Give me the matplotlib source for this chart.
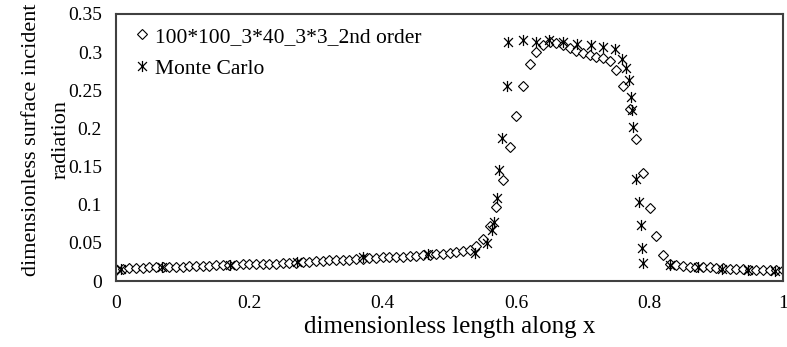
import matplotlib.pyplot as plt
from matplotlib.path import Path
from matplotlib.ticker import FuncFormatter

plt.rcParams['font.family'] = ['Liberation Serif', 'DejaVu Serif']

# discrete ordinates result, 0.01 spacing along x
x_do = [0.00, 0.01, 0.02, 0.03, 0.04, 0.05, 0.06, 0.07, 0.08, 0.09,
        0.10, 0.11, 0.12, 0.13, 0.14, 0.15, 0.16, 0.17, 0.18, 0.19,
        0.20, 0.21, 0.22, 0.23, 0.24, 0.25, 0.26, 0.27, 0.28, 0.29,
        0.30, 0.31, 0.32, 0.33, 0.34, 0.35, 0.36, 0.37, 0.38, 0.39,
        0.40, 0.41, 0.42, 0.43, 0.44, 0.45, 0.46, 0.47, 0.48, 0.49,
        0.50, 0.51, 0.52, 0.53, 0.54, 0.55, 0.56, 0.57, 0.58, 0.59,
        0.60, 0.61, 0.62, 0.63, 0.64, 0.65, 0.66, 0.67, 0.68, 0.69,
        0.70, 0.71, 0.72, 0.73, 0.74, 0.75, 0.76, 0.77, 0.78, 0.79,
        0.80, 0.81, 0.82, 0.83, 0.84, 0.85, 0.86, 0.87, 0.88, 0.89,
        0.90, 0.91, 0.92, 0.93, 0.94, 0.95, 0.96, 0.97, 0.98, 0.99, 1.00]
y_do = [0.014, 0.016, 0.017, 0.017, 0.017, 0.018, 0.018, 0.018, 0.019, 0.019,
        0.019, 0.020, 0.020, 0.020, 0.020, 0.021, 0.021, 0.021, 0.021, 0.022,
        0.022, 0.022, 0.023, 0.023, 0.023, 0.024, 0.024, 0.024, 0.025, 0.025,
        0.026, 0.026, 0.027, 0.027, 0.028, 0.028, 0.029, 0.029, 0.030, 0.030,
        0.031, 0.031, 0.032, 0.032, 0.033, 0.033, 0.034, 0.034, 0.035, 0.036,
        0.037, 0.038, 0.039, 0.041, 0.046, 0.055, 0.072, 0.097, 0.133, 0.175,
        0.216, 0.256, 0.284, 0.300, 0.309, 0.313, 0.312, 0.309, 0.305, 0.301,
        0.299, 0.296, 0.294, 0.292, 0.288, 0.276, 0.255, 0.225, 0.186, 0.142,
        0.096, 0.059, 0.034, 0.022, 0.021, 0.020, 0.019, 0.019, 0.018, 0.018,
        0.017, 0.017, 0.016, 0.016, 0.016, 0.015, 0.015, 0.014, 0.014, 0.014, 0.014]

# Monte Carlo reference
x_mc = [0.007, 0.069, 0.171, 0.271, 0.370, 0.468, 0.538, 0.556, 0.564, 0.567,
        0.571, 0.574, 0.579, 0.586, 0.588, 0.610, 0.630, 0.649, 0.670, 0.691,
        0.712, 0.730, 0.748, 0.759, 0.765, 0.769, 0.772, 0.774, 0.775, 0.780,
        0.784, 0.787, 0.789, 0.790, 0.831, 0.873, 0.909, 0.948, 0.988]
y_mc = [0.016, 0.018, 0.021, 0.025, 0.032, 0.035, 0.037, 0.050, 0.067, 0.077,
        0.109, 0.145, 0.187, 0.256, 0.313, 0.316, 0.313, 0.316, 0.313, 0.311,
        0.309, 0.307, 0.304, 0.291, 0.279, 0.263, 0.241, 0.224, 0.202, 0.134,
        0.104, 0.073, 0.043, 0.024, 0.021, 0.018, 0.016, 0.014, 0.013]

labels = ['100*100_3*40_3*3_2nd order', 'Monte Carlo']

# excel style star: X plus a vertical bar
star = Path([(0, -1), (0, 1), (-0.8, -0.8), (0.8, 0.8), (-0.8, 0.8), (0.8, -0.8)],
            [Path.MOVETO, Path.LINETO, Path.MOVETO, Path.LINETO, Path.MOVETO, Path.LINETO])

fig = plt.figure(figsize=(7.87, 3.47), dpi=100)
ax = fig.add_axes([0.1474, 0.190, 0.8476, 0.770])

ax.plot(x_do, y_do, linestyle='none', marker='D', markersize=4.7,
        mfc='white', mec='black', mew=0.8, label=labels[0])
ax.plot(x_mc, y_mc, linestyle='none', marker=star, markersize=8,
        mfc='none', mec='black', mew=0.9, label=labels[1])

ax.set_xlim(0, 1)
ax.set_ylim(0, 0.35)
ax.set_xticks([0, 0.2, 0.4, 0.6, 0.8, 1.0])
ax.set_yticks([0, 0.05, 0.1, 0.15, 0.2, 0.25, 0.3, 0.35])
fmt = FuncFormatter(lambda v, p: ('%g' % round(v, 2)))
ax.xaxis.set_major_formatter(fmt)
ax.yaxis.set_major_formatter(fmt)
ax.tick_params(length=0, labelsize=14, pad=10)
for s in ax.spines.values():
    s.set_color('#404040')
    s.set_linewidth(1.5)

ax.set_xlabel('dimensionless length along x', fontsize=18, labelpad=3)
ax.set_ylabel('dimensionless surface incident\nradiation', fontsize=16,
              linespacing=1.75, va='center')
ax.yaxis.set_label_coords(-0.105, 0.53)

ax.legend(loc='upper left', frameon=False, fontsize=15.5, handlelength=0.6,
          handletextpad=0.3, labelspacing=0.55, borderaxespad=0.2,
          bbox_to_anchor=(0.01, 1.0))

fig.savefig('out.png', dpi=100)
